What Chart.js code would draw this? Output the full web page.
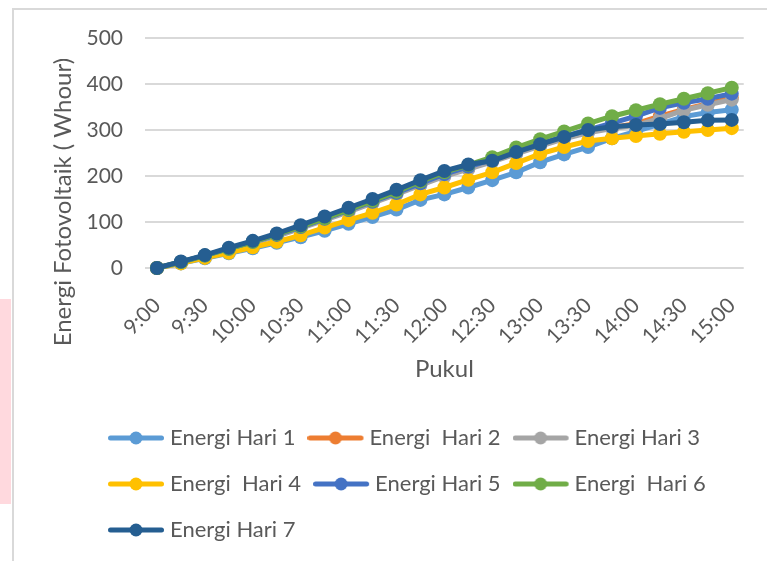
<!DOCTYPE html>
<html>
<head>
<meta charset="utf-8">
<script src="https://cdn.jsdelivr.net/npm/chart.js@4"></script>
<style>
  html, body { margin: 0; padding: 0; background: #fff; }
  body { width: 767px; height: 561px; position: relative; overflow: hidden; }
  #pink { position: absolute; left: 0; top: 299px; width: 11px; height: 205px; background: #ffd9de; }
  #frame { position: absolute; left: 12px; top: 8px; width: 800px; height: 600px; border-left: 2px solid #d9d9d9; border-top: 2px solid #d9d9d9; }
  #wrap { position: absolute; left: 0; top: 0; width: 767px; height: 561px; }
</style>
</head>
<body>
<div id="pink"></div>
<div id="frame"></div>
<div id="wrap"><canvas id="chart"></canvas></div>
<script>
const times = ['9:00', '9:15', '9:30', '9:45', '10:00', '10:15', '10:30', '10:45', '11:00', '11:15', '11:30', '11:45',
  '12:00', '12:15', '12:30', '12:45', '13:00', '13:15', '13:30', '13:45', '14:00', '14:15', '14:30', '14:45', '15:00'];

const hari1 = [0, 10, 21, 32, 43, 55, 67, 81, 96, 111, 127, 148, 160, 175, 191, 208, 230, 247, 263, 282, 297, 313, 329, 338, 344];
const hari2 = [0, 12, 26, 40, 55, 71, 88, 106, 124, 143, 162, 182, 201, 217, 233, 250, 267, 283, 296, 305, 314, 330, 345, 357, 370];
const hari3 = [0, 12, 25, 39, 54, 69, 86, 104, 122, 141, 160, 180, 199, 215, 231, 248, 265, 281, 294, 303, 310, 325, 343, 355, 366];
const hari4 = [0, 10, 22, 33, 45, 57, 71, 88, 104, 120, 138, 160, 175, 192, 208, 228, 248, 263, 276, 282, 287, 292, 296, 300, 304];
const hari5 = [0, 13, 27, 42, 57, 72, 89, 107, 126, 144, 163, 184, 204, 220, 236, 254, 270, 286, 300, 315, 330, 348, 359, 368, 379];
const hari6 = [0, 13, 27, 42, 57, 73, 90, 108, 127, 146, 166, 188, 208, 224, 241, 262, 280, 297, 314, 330, 343, 356, 368, 380, 392];
const hari7 = [0, 14, 28, 44, 59, 75, 93, 112, 131, 150, 170, 191, 211, 225, 233, 252, 269, 285, 300, 307, 311, 313, 317, 321, 322];

const seriesNames = ['Energi Hari 1', 'Energi  Hari 2', 'Energi Hari 3', 'Energi  Hari 4', 'Energi Hari 5', 'Energi  Hari 6', 'Energi Hari 7'];
const seriesData = [hari1, hari2, hari3, hari4, hari5, hari6, hari7];
const colors = ['#5b9bd5', '#ed7d31', '#a5a5a5', '#ffc000', '#4472c4', '#70ad47', '#255e91'];

Chart.defaults.font.family = 'Lato, "Open Sans", sans-serif';
Chart.defaults.color = '#595959';

// little line+marker icons for the legend
function makeIcon(color) {
  const c = document.createElement('canvas');
  c.width = 63; c.height = 16;
  const g = c.getContext('2d');
  g.strokeStyle = color;
  g.lineWidth = 5;
  g.lineCap = 'round';
  g.beginPath(); g.moveTo(2.5, 8); g.lineTo(53.5, 8); g.stroke();
  g.fillStyle = color;
  g.beginPath(); g.arc(28, 8, 6.5, 0, Math.PI * 2); g.fill();
  return c;
}
const icons = colors.map(makeIcon);

const legendShift = {
  id: 'legendShift',
  afterLayout(chart) { chart.legend.left = 96; }
};

const datasets = seriesData.map((d, i) => ({
  label: seriesNames[i],
  data: d,
  borderColor: colors[i],
  backgroundColor: colors[i],
  pointBackgroundColor: colors[i],
  pointBorderColor: colors[i],
  borderWidth: 5,
  pointRadius: 7,
  pointBorderWidth: 0,
  tension: 0,
  clip: false,
  order: 7 - i
}));

// trailing spaces push the rotated title down a bit, like the original
const yTitle = 'Energi Fotovoltaik ( Whour)' + '\u00a0'.repeat(16);

new Chart(document.getElementById('chart'), {
  type: 'line',
  data: { labels: times, datasets },
  plugins: [legendShift],
  options: {
    responsive: true,
    maintainAspectRatio: false,
    animation: false,
    layout: { padding: { left: 0, right: 21, top: 38, bottom: 10 } },
    scales: {
      x: {
        offset: true,
        grid: { display: false },
        border: { display: false },
        ticks: {
          autoSkip: false,
          minRotation: 45,
          maxRotation: 45,
          padding: 17,
          font: { size: 21 },
          callback: (v, i) => (i % 2 === 0 ? times[i] : '')
        },
        title: { display: true, text: 'Pukul', font: { size: 24 }, padding: { top: 0, bottom: 19 } },
        afterFit: s => { s.height = 135; }
      },
      y: {
        min: 0,
        max: 500,
        grid: { color: '#d9d9d9', lineWidth: 2, drawTicks: false },
        border: { display: false },
        ticks: { stepSize: 100, padding: 22, font: { size: 21 } },
        title: { display: true, text: yTitle, font: { size: 24 }, padding: { top: 49, bottom: 0 } },
        afterFit: s => { s.width = 145; }
      }
    },
    plugins: {
      tooltip: { enabled: false },
      legend: {
        position: 'bottom',
        align: 'start',
        labels: {
          usePointStyle: true,
          pointStyleWidth: 39,
          padding: 24,
          font: { size: 22 },
          color: '#595959',
          sort: (a, b) => a.datasetIndex - b.datasetIndex,
          generateLabels(chart) {
            const items = Chart.defaults.plugins.legend.labels.generateLabels(chart);
            items.forEach(it => { it.pointStyle = icons[it.datasetIndex]; });
            return items;
          }
        }
      }
    }
  }
});
</script>
</body>
</html>
